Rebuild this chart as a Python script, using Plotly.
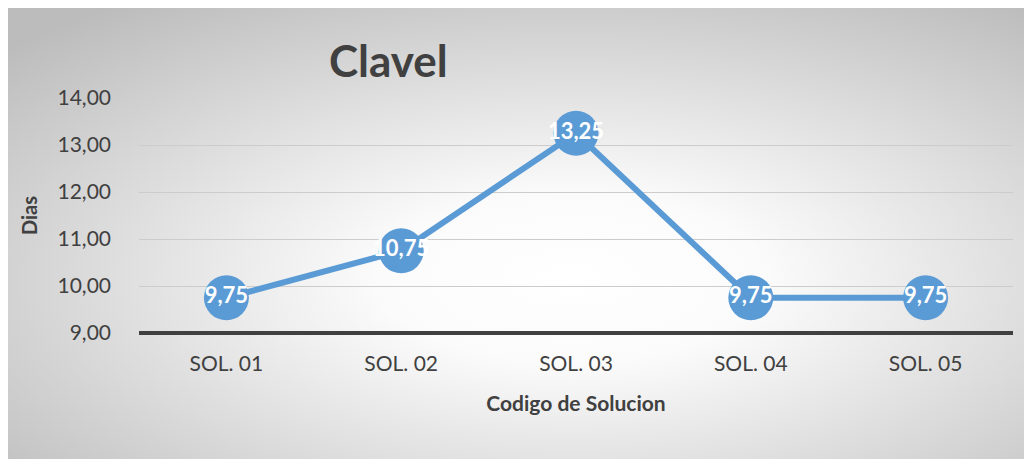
import plotly.graph_objects as go
import base64

categories = ["SOL. 01", "SOL. 02", "SOL. 03", "SOL. 04", "SOL. 05"]
values = [9.75, 10.75, 13.25, 9.75, 9.75]
y_ticks = [9, 10, 11, 12, 13, 14]

# page has an 8px body margin; figure covers the grey box
W, H = 1024, 451
ml, mr, mt, mb = 131, 19, 90, 126
pw, ph = W - ml - mr, H - mt - mb
FONT = "Lato"

svg = """<svg xmlns='http://www.w3.org/2000/svg' width='1024' height='451' preserveAspectRatio='none'>
<defs><radialGradient id='g' cx='0.55' cy='0.6' r='0.75'>
<stop offset='0' stop-color='#ffffff'/><stop offset='0.25' stop-color='#fbfbfb'/>
<stop offset='1' stop-color='#bcbcbc'/></radialGradient></defs>
<rect width='1024' height='451' fill='url(#g)'/></svg>"""
src = "data:image/svg+xml;base64," + base64.b64encode(svg.encode()).decode()

fig = go.Figure()
fig.add_trace(go.Scatter(
    x=categories, y=values, mode="lines+markers+text",
    line=dict(color="#5b9bd5", width=6),
    marker=dict(size=45, color="#5b9bd5"),
    texttemplate="<b>%{y:.2f}</b>", textposition="middle center",
    textfont=dict(color="white", size=22, family=FONT),
    cliponaxis=False, showlegend=False,
))

fig.update_layout(
    width=W, height=H,
    margin=dict(l=ml, r=mr, t=mt, b=mb, autoexpand=False),
    paper_bgcolor="#e6e6e6", plot_bgcolor="rgba(0,0,0,0)",
    separators=",.",
    font=dict(family=FONT, color="#595959", size=20),
    images=[dict(source=src, xref="paper", yref="paper",
                 x=-ml / pw, y=1 + mt / ph,
                 sizex=W / pw, sizey=H / ph,
                 sizing="stretch", xanchor="left", yanchor="top", layer="below")],
    xaxis=dict(range=[-0.5, 4.5], showgrid=False, showline=False, ticks="",
               ticklabelstandoff=16,
               tickfont=dict(size=21, color="#404040"),
               title=dict(text="<b>Codigo de Solucion</b>", font=dict(size=21, color="#404040"), standoff=22)),
    yaxis=dict(range=[9, 14], tickvals=y_ticks, tickformat=".2f",
               showgrid=True, gridcolor="#cccccc", gridwidth=1, zeroline=False,
               ticks="", ticklabelstandoff=27, tickfont=dict(size=21, color="#404040"),
               title=dict(text="<b>Dias</b>", font=dict(size=20, color="#404040"), standoff=14)),
    shapes=[dict(type="line", xref="paper", yref="paper", x0=0, x1=1, y0=0, y1=0,
                 line=dict(color="#404040", width=4), layer="below")],
    annotations=[dict(text="<b>Clavel</b>", xref="paper", yref="paper",
                      x=(380 - ml) / pw, y=1 + (mt - 52) / ph, xanchor="center", yanchor="middle",
                      showarrow=False, font=dict(size=44, color="#404040", family=FONT))],
)
fig.write_html("out.html")
